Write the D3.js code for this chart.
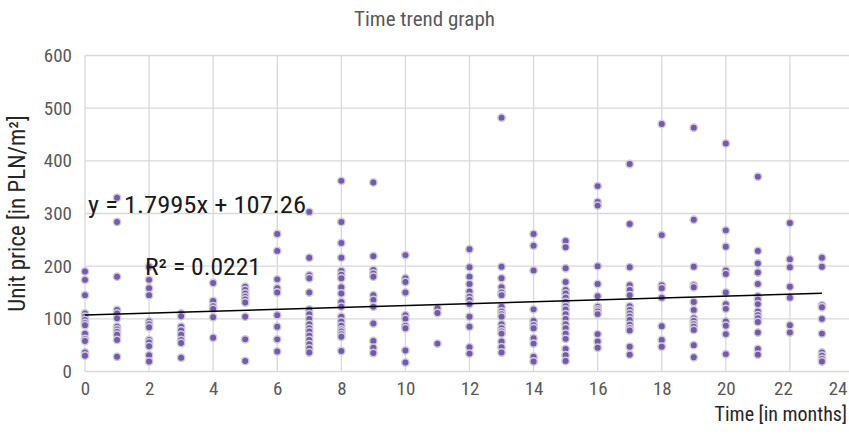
<!DOCTYPE html>
<html><head><meta charset="utf-8">
<script src="https://cdn.jsdelivr.net/npm/d3@7/dist/d3.min.js"></script>
<style>
body{margin:0;background:#fff}
svg{display:block}
text{font-family:"Roboto Condensed","Liberation Sans Narrow","DejaVu Sans Condensed",Roboto,sans-serif}
</style>
</head><body>
<svg id="chart" width="849" height="440"></svg>
<script>
// ---- data ----
const chartTitle = "Time trend graph";
const xAxisTitle = "Time [in months]";
const yAxisTitle = "Unit price [in PLN/m²]";
const xTicks = [0,2,4,6,8,10,12,14,16,18,20,22,24];
const yTicks = [0,100,200,300,400,500,600];
const months = [0,1,2,3,4,5,6,7,8,9,10,11,12,13,14,15,16,17,18,19,20,21,22,23];
const pricesM0  = [190,174,145,110,104,98,92,88,72,62,58,36,30];
const pricesM1  = [330,284,180,117,110,101,85,80,75,70,60,28];
const pricesM2  = [199,174,158,145,95,90,84,60,55,48,31,19];
const pricesM3  = [110,105,85,78,70,60,54,26];
const pricesM4  = [168,134,124,119,103,64];
const pricesM5  = [161,155,148,142,137,131,104,61,20];
const pricesM6  = [261,229,175,158,150,107,85,61,38];
const pricesM7  = [303,216,183,177,150,118,109,100,90,82,76,68,60,52,44,36];
const pricesM8  = [362,284,244,216,191,184,177,160,148,132,123,104,95,87,80,76,71,66,39];
const pricesM9  = [359,219,193,186,180,145,136,123,91,58,45,35];
const pricesM10 = [221,177,170,150,107,100,87,82,40,17];
const pricesM11 = [120,111,53];
const pricesM12 = [232,198,180,166,152,142,136,128,104,85,46,34];
const pricesM13 = [482,199,177,160,150,145,123,114,109,104,90,82,76,72,57,46,36];
const pricesM14 = [261,239,192,118,96,88,82,63,53,28,19];
const pricesM15 = [248,236,196,170,155,148,140,132,124,118,109,100,90,82,72,62,43,31,20];
const pricesM16 = [352,322,315,200,166,143,123,118,114,109,71,57,45];
const pricesM17 = [394,280,198,164,155,145,124,117,110,104,98,89,82,78,47,32];
const pricesM18 = [470,259,164,158,140,86,60,47];
const pricesM19 = [463,288,199,164,160,132,117,101,96,90,85,79,50,27];
const pricesM20 = [433,268,237,192,185,150,128,119,95,87,71,33];
const pricesM21 = [370,229,205,188,166,143,137,128,114,107,101,94,74,43,32];
const pricesM22 = [282,213,198,161,140,88,74];
const pricesM23 = [216,199,126,122,100,72,36,30,24,19];
const pricesByMonth = [pricesM0,pricesM1,pricesM2,pricesM3,pricesM4,pricesM5,pricesM6,pricesM7,
  pricesM8,pricesM9,pricesM10,pricesM11,pricesM12,pricesM13,pricesM14,pricesM15,pricesM16,
  pricesM17,pricesM18,pricesM19,pricesM20,pricesM21,pricesM22,pricesM23];
const trendSlope = 1.7995;
const trendIntercept = 107.26;
const trendEquation = "y = 1.7995x + 107.26";
const trendR2 = "R² = 0.0221";

// ---- build ----
const points = [];
months.forEach((m,i)=>pricesByMonth[i].forEach(v=>points.push({x:m,y:v})));

const W = 849, H = 440;
const svg = d3.select("#chart");
const x = d3.scaleLinear().domain([0,24]).range([85,854]);
const y = d3.scaleLinear().domain([0,600]).range([371.5,55.5]);
const gridColor = "#d9d9d9";
const textColor = "#595959";

// gridlines
svg.append("g").selectAll("line").data(yTicks).join("line")
  .attr("x1",x(0)).attr("x2",W).attr("y1",d=>y(d)).attr("y2",d=>y(d))
  .attr("stroke",gridColor).attr("stroke-width",1.3);
svg.append("g").selectAll("line").data(xTicks).join("line")
  .attr("x1",d=>x(d)).attr("x2",d=>x(d)).attr("y1",y(600)).attr("y2",y(0))
  .attr("stroke",gridColor).attr("stroke-width",1.3);

// axes (labels only)
const yAxis = svg.append("g").attr("transform",`translate(${x(0)},0)`)
  .call(d3.axisLeft(y).tickValues(yTicks).tickSize(0).tickPadding(13).tickFormat(d3.format("d")));
yAxis.select(".domain").remove();
yAxis.selectAll("text").attr("fill",textColor).style("font-size","19px");

const xAxis = svg.append("g").attr("transform",`translate(0,${y(0)})`)
  .call(d3.axisBottom(x).tickValues(xTicks).tickSize(0).tickPadding(10).tickFormat(d3.format("d")));
xAxis.select(".domain").remove();
xAxis.selectAll("text").attr("fill",textColor).style("font-size","19px");
// keep labels inside the chart area (like the original)
xAxis.selectAll("text").each(function(d){
  const bb = this.getBBox();
  const right = x(d) + bb.width/2;
  if (right > W-2) d3.select(this).attr("x", (W-2) - right);
  if (d===22) d3.select(this).attr("x",-7);
});

// points
svg.append("g").selectAll("circle").data(points).join("circle")
  .attr("cx",d=>x(d.x)).attr("cy",d=>y(d.y)).attr("r",3.7)
  .attr("fill","#7558b0").attr("stroke","#cfcdd8").attr("stroke-width",1.5);

// trend line
const xMin = d3.min(months), xMax = d3.max(months);
svg.append("line")
  .attr("x1",x(xMin)).attr("y1",y(trendIntercept+trendSlope*xMin))
  .attr("x2",x(xMax)).attr("y2",y(trendIntercept+trendSlope*xMax))
  .attr("stroke","#000").attr("stroke-width",1.4);

// trend labels
svg.append("text").attr("x",88).attr("y",213).text(trendEquation)
  .attr("fill","#1a1a1a").style("font-size","23px")
  .attr("textLength",218).attr("lengthAdjust","spacingAndGlyphs");
svg.append("text").attr("x",145).attr("y",275).text(trendR2)
  .attr("fill","#1a1a1a").style("font-size","23px")
  .attr("textLength",116).attr("lengthAdjust","spacingAndGlyphs");

// titles
svg.append("text").attr("x",424.5).attr("y",26).attr("text-anchor","middle")
  .text(chartTitle).attr("fill",textColor).style("font-size","21px");
svg.append("text").attr("x",847).attr("y",421).attr("text-anchor","end")
  .text(xAxisTitle).attr("fill","#262626").style("font-size","20px");
svg.append("text").attr("transform",`translate(25,${(y(0)+y(600))/2}) rotate(-90)`)
  .attr("text-anchor","middle").text(yAxisTitle).attr("fill","#262626").style("font-size","23px");
</script>
</body></html>
